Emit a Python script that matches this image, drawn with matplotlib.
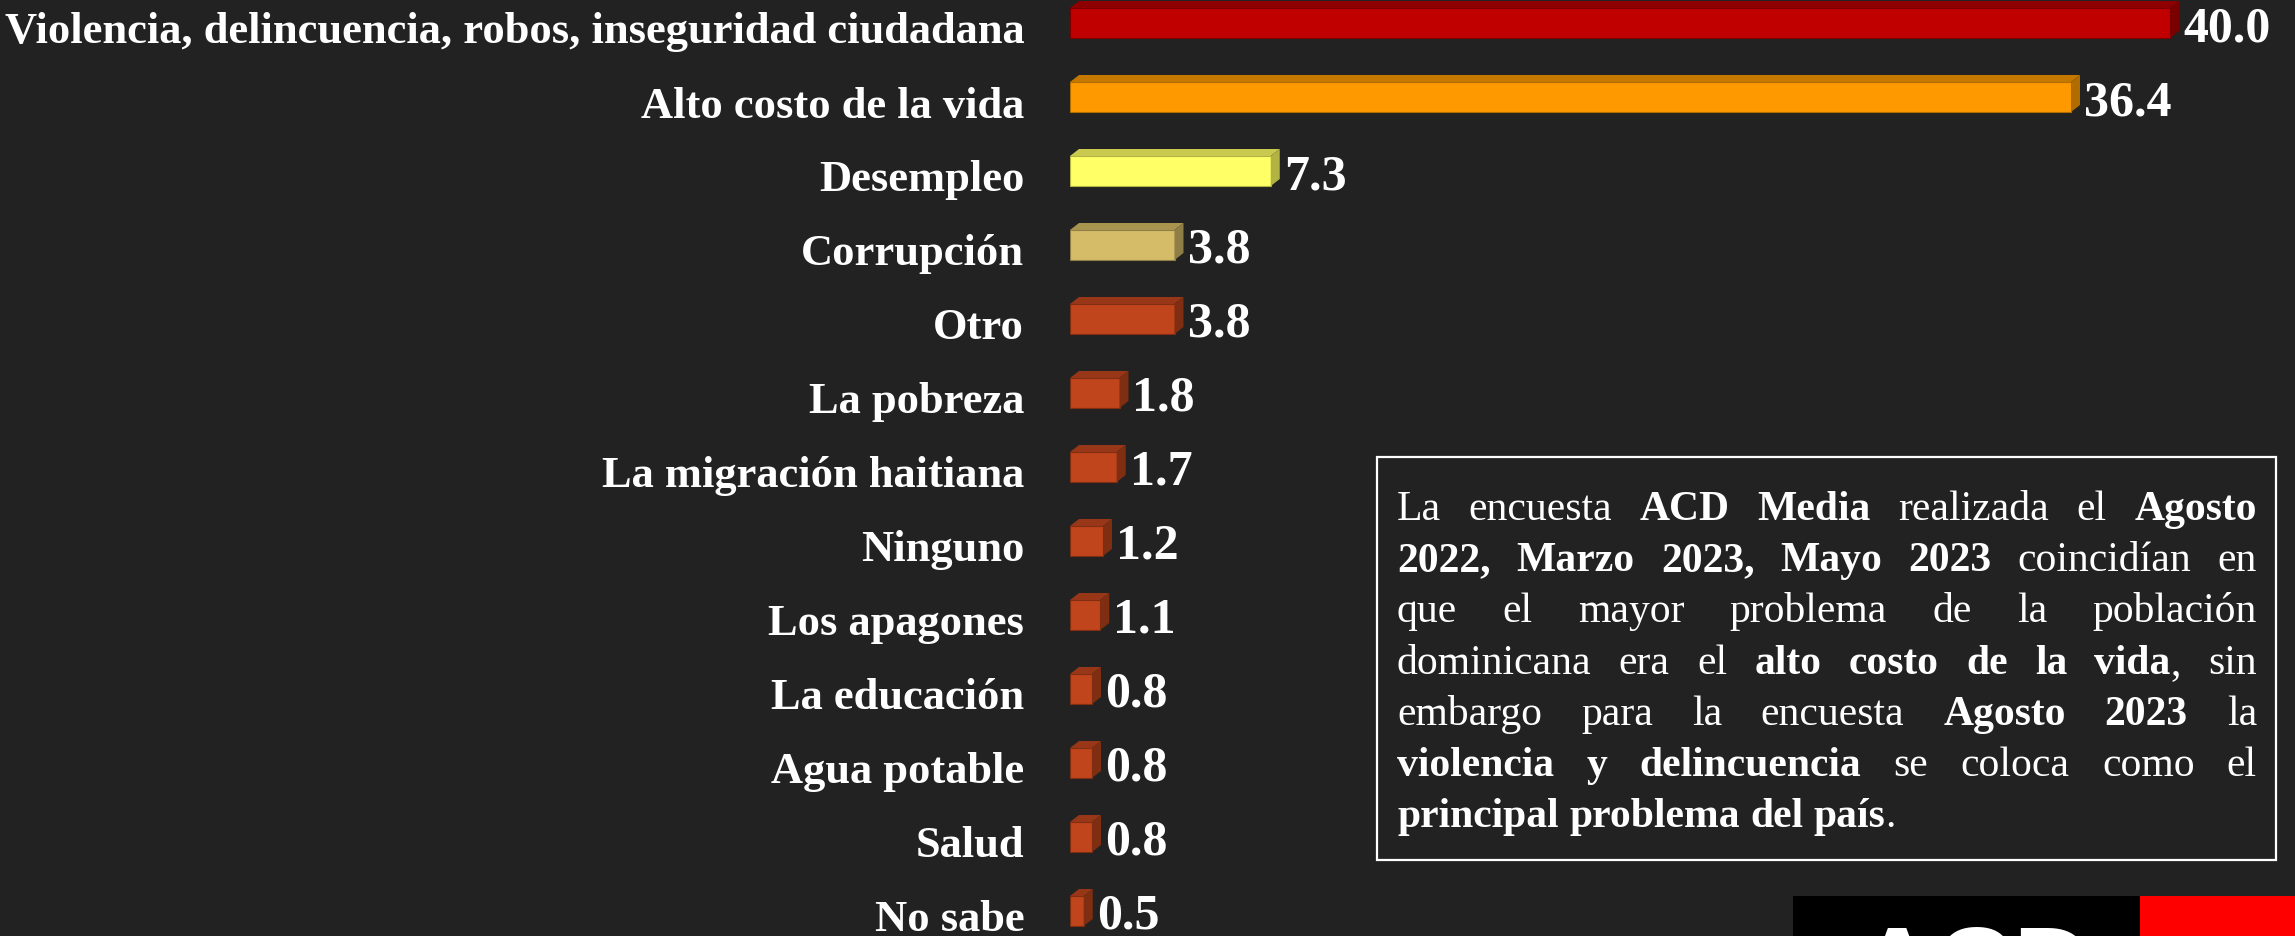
import matplotlib
matplotlib.use('Agg')
import matplotlib.pyplot as plt
from matplotlib.patches import Polygon, Rectangle
from matplotlib.transforms import ScaledTranslation

# datos
categorias = ['Violencia, delincuencia, robos, inseguridad ciudadana',
              'Alto costo de la vida', 'Desempleo', 'Corrupción', 'Otro',
              'La pobreza', 'La migración haitiana', 'Ninguno', 'Los apagones',
              'La educación', 'Agua potable', 'Salud', 'No sabe']
valores = [40.0, 36.4, 7.3, 3.8, 3.8, 1.8, 1.7, 1.2, 1.1, 0.8, 0.8, 0.8, 0.5]

# colores: cara frontal, cara superior, cara lateral
frente = ['#C00000', '#FF9900', '#FFFF66', '#D4BC68'] + ['#C0441C'] * 9
arriba = ['#8E0000', '#C47800', '#C9C94F', '#A8944F'] + ['#973718'] * 9
lado = ['#7A0000', '#B06C00', '#B3B344', '#8F7E45'] + ['#7F2E12'] * 9

# texto del recuadro (** = negrita)
nota = ['La encuesta **ACD Media** realizada el **Agosto**',
        '**2022, Marzo 2023, Mayo 2023** coincidían en',
        'que el mayor problema de la población',
        'dominicana era el **alto costo de la vida**, sin',
        'embargo para la encuesta **Agosto 2023** la',
        '**violencia y delincuencia** se coloca como el',
        '**principal problema del país**.']

W, H = 2295, 937
fondo = '#222222'
serif = 'Liberation Serif'

fig = plt.figure(figsize=(W / 100, H / 100), dpi=100, facecolor=fondo)

x0 = 1070      # pixel del cero
px_u = 27.5    # pixeles por unidad
y0 = 24        # centro de la primera barra
px_cat = 74    # separacion entre barras

ax = fig.add_axes([x0 / W, 0, 1 - x0 / W, 1])
ax.set_xlim(0, (W - x0) / px_u)
ax.set_ylim((H - y0) / px_cat, -y0 / px_cat)
ax.set_facecolor('none')
for s in ax.spines.values():
    s.set_visible(False)
ax.set_xticks([])
ax.set_yticks(range(len(categorias)))
ax.set_yticklabels(categorias, fontsize=32, fontweight='bold', family=serif, color='white')
ax.tick_params(axis='y', length=0, pad=33)
bajar = ScaledTranslation(0, -4 / 100, fig.dpi_scale_trans)
for lab in ax.get_yticklabels():
    lab.set_transform(lab.get_transform() + bajar)

alto = 30 / px_cat
dx = 9 / px_u
dy = 7 / px_cat

for i, v in enumerate(valores):
    ax.barh(i, v, height=alto, color=frente[i], edgecolor=lado[i], linewidth=0.8)
    yt = i - alto / 2
    yb = i + alto / 2
    ax.add_patch(Polygon([(0, yt), (v, yt), (v + dx, yt - dy), (dx, yt - dy)],
                         closed=True, facecolor=arriba[i], edgecolor='none'))
    ax.add_patch(Polygon([(v, yt), (v + dx, yt - dy), (v + dx, yb - dy), (v, yb)],
                         closed=True, facecolor=lado[i], edgecolor='none'))
    ax.annotate(f'{v:.1f}', (v, i), xytext=(13, -5), textcoords='offset pixels',
                ha='left', va='center', fontsize=36, fontweight='bold',
                family=serif, color='white', annotation_clip=False)

# recuadro
bx0, by0, bx1, by1 = 1377, 458, 2276, 861
fig.patches.append(Rectangle((bx0 / W, 1 - by1 / H), (bx1 - bx0) / W, (by1 - by0) / H,
                             transform=fig.transFigure, fill=False,
                             edgecolor='white', linewidth=1.6))

fs = 30
renderer = fig.canvas.get_renderer()


def ancho(s, bold):
    t = fig.text(0, 0, s, fontsize=fs, family=serif,
                 fontweight='bold' if bold else 'normal')
    w = t.get_window_extent(renderer).width
    t.remove()
    return w


def palabras(linea):
    res = [[]]
    for k, seg in enumerate(linea.split('**')):
        bold = k % 2 == 1
        for j, p in enumerate(seg.split(' ')):
            if j > 0:
                res.append([])
            if p:
                res[-1].append((p, bold))
    return [w for w in res if w]


tx0, tx1 = 1397, 2257
base0, paso = 520, 51.2
espacio = ancho('x x', False) - ancho('xx', False)

for n, linea in enumerate(nota):
    ws = palabras(linea)
    anchos = [[ancho(p, b) for p, b in w] for w in ws]
    total = sum(sum(a) for a in anchos)
    if n < len(nota) - 1:
        gap = (tx1 - tx0 - total) / (len(ws) - 1)
    else:
        gap = espacio
    x = tx0
    yb = base0 + n * paso
    for w, a in zip(ws, anchos):
        for (p, b), aa in zip(w, a):
            fig.text(x / W, 1 - yb / H, p, fontsize=fs, family=serif,
                     fontweight='bold' if b else 'normal', color='white',
                     va='baseline')
            x += aa
        x += gap

# logo
fig.patches.append(Rectangle((1793 / W, 0), (2140 - 1793) / W, (H - 897) / H,
                             transform=fig.transFigure, facecolor='black', edgecolor='none'))
fig.patches.append(Rectangle((2140 / W, 0), (W - 2140) / W, (H - 897) / H,
                             transform=fig.transFigure, facecolor='#FF0000', edgecolor='none'))
fig.text(1857 / W, 1 - 1002 / H, 'ACD', fontsize=78, fontweight='bold',
         family='Liberation Sans', color='white', va='baseline')

fig.savefig('out.png', dpi=100, facecolor=fondo)
